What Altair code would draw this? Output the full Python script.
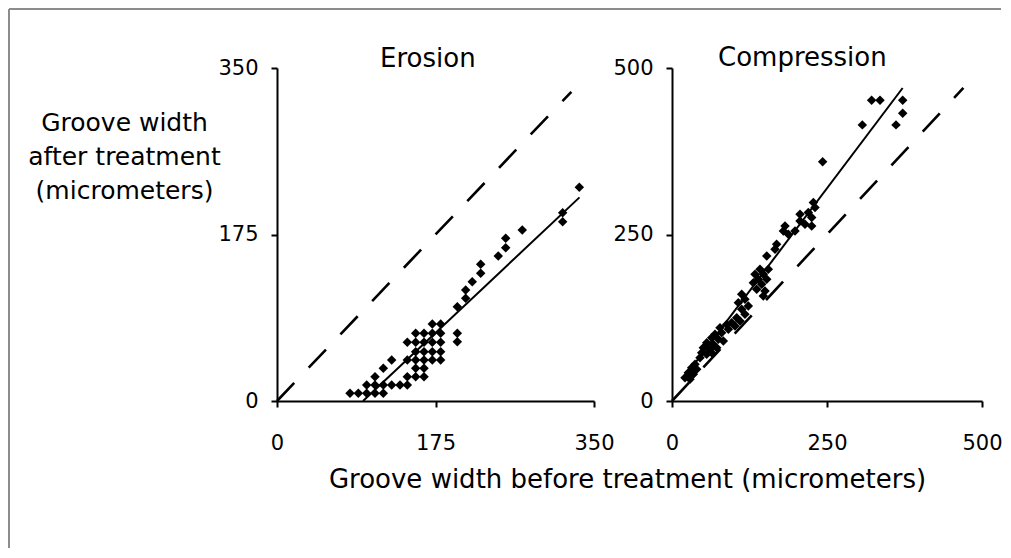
import altair as alt
import pandas as pd

FONT = "DejaVu Sans"

# ---------------- data ----------------
erosion_before = [333.8, 315.4, 315.4, 270.8, 252.5, 252.5, 244.3, 224.9, 224.9, 215.6,
                  208.3, 208.3, 199.1, 199.1, 199.1,
                  80.6, 89.8, 99.0, 108.2, 117.4,
                  99.0, 108.2, 117.4, 126.6, 135.8, 143.9,
                  108.2, 143.9, 153.1, 162.3,
                  117.4, 153.1, 162.3,
                  126.6, 143.9, 153.1, 162.3, 171.5, 180.7,
                  153.1, 162.3, 171.5, 180.7,
                  143.9, 153.1, 162.3, 171.5, 180.7,
                  153.1, 162.3, 171.5, 180.7,
                  171.5, 180.7]
erosion_after = [224.6, 197.9, 188.5, 179.7, 171.0, 161.1, 152.4, 143.7, 134.2, 125.4,
                 116.7, 107.9, 99.1, 71.1, 62.3,
                 8.1, 8.1, 8.1, 8.1, 8.1,
                 16.8, 16.8, 16.8, 16.8, 16.8, 16.8,
                 25.6, 25.6, 25.6, 25.6,
                 34.4, 34.4, 34.4,
                 43.1, 43.1, 43.1, 43.1, 43.1, 43.1,
                 51.8, 51.8, 51.8, 51.8,
                 61.7, 61.7, 61.7, 61.7, 61.7,
                 71.1, 71.1, 71.1, 71.1,
                 80.9, 80.9]

compression_before = [322, 335.5, 372.1, 372.1, 361.3, 307, 243,
                      228, 230.7, 219.9, 225.3, 225.3, 206.5, 206.5, 214.5, 198.4, 182.3,
                      179.6, 187.6, 168.8, 166.1, 152.8,
                      155.4, 141.9, 147.3, 133.9, 139.2, 152.8, 131.2, 144.7, 136.6, 150, 147.3,
                      112.4, 117.7, 107, 123.1, 112.4, 117.7, 104.3, 109.7, 96.3, 101.6, 88.2,
                      90.9, 77.4,
                      80.1, 69.4, 74.7, 64, 82.8, 56, 66.6, 50.5, 61.3, 72.1, 47.9, 56, 64, 45.2,
                      37.1, 31.8, 39.8, 26.3, 34.4, 21, 29]
compression_after = [451.6, 451.6, 451.6, 432.1, 414.6, 414.6, 359.4,
                     297.9, 290.4, 282.9, 275.4, 262.9, 280.4, 270.4, 265.4, 255.3, 262.9,
                     255.3, 250.4, 235.3, 227.8, 217.8,
                     197.8, 197.8, 190.3, 190.3, 182.8, 182.8, 177.7, 175.3, 167.8, 165.2, 157.7,
                     160.2, 152.7, 147.7, 142.7, 137.7, 130.2, 125.1, 120.2, 117.6, 112.7, 115,
                     107.7, 110.1,
                     102.6, 100.2, 92.7, 95.1, 90.1, 87.6, 85.2, 80.1, 77.6, 80.1, 72.5, 70.1, 72.5, 65,
                     55.1, 50, 47.6, 42.5, 40.1, 35, 32.6]

erosion_fit_before = [95, 334]
erosion_fit_after = [0, 214]
compression_fit_before = [22, 372]
compression_fit_after = [38, 470]
erosion_equal = [0, 325]
compression_equal = [0, 470]

erosion_ticks = [0, 175, 350]
compression_ticks = [0, 250, 500]
panel_titles = ["Erosion", "Compression"]
y_title = ["Groove width", "after treatment", "(micrometers)"]
x_title = "Groove width before treatment (micrometers)"


def panel(pb, pa, fb, fa, eq, ticks, width, height, title, title_dx, title_dy,
          x_axis, y_axis, extra):
    dmax = ticks[-1]
    x = alt.X("b:Q", scale=alt.Scale(domain=[0, dmax], nice=False, zero=True), axis=x_axis)
    y = alt.Y("a:Q", scale=alt.Scale(domain=[0, dmax], nice=False, zero=True), axis=y_axis)
    pts = pd.DataFrame({"b": pb, "a": pa})
    fit = pd.DataFrame({"b": fb, "a": fa})
    eqdf = pd.DataFrame({"b": eq, "a": eq})
    l_eq = alt.Chart(eqdf).mark_line(color="black", strokeWidth=2.6,
                                     strokeDash=[25, 21]).encode(x=x, y=y)
    l_fit = alt.Chart(fit).mark_line(color="black", strokeWidth=2).encode(x=x, y=y)
    l_pts = alt.Chart(pts).mark_point(shape="diamond", filled=True, size=90,
                                      color="black", opacity=1).encode(x=x, y=y)
    l_title = alt.Chart(pd.DataFrame({"t": [title]})).mark_text(
        font=FONT, fontSize=26, align="left", baseline="alphabetic", color="black"
    ).encode(text="t:N", x=alt.value(title_dx), y=alt.value(title_dy))
    return alt.layer(*extra, l_eq, l_fit, l_pts, l_title).properties(
        width=width, height=height)


frame_df = pd.DataFrame({"f": [0]})
frame_top = alt.Chart(frame_df).mark_rule(color="#8c8c8c", strokeWidth=2).encode(
    x=alt.value(-268), x2=alt.value(724), y=alt.value(-59))
frame_left = alt.Chart(frame_df).mark_rule(color="#8c8c8c", strokeWidth=2).encode(
    x=alt.value(-268), y=alt.value(-59), y2=alt.value(480))

ero_x_axis = alt.Axis(values=erosion_ticks, title=x_title, titleX=350, titleY=86,
                      titleAlign="center", titleBaseline="alphabetic", titleFontSize=26,
                      labelPadding=25)
ero_y_axis = alt.Axis(values=erosion_ticks, title=y_title, titleAngle=0, titleX=-153,
                      titleY=62, titleAlign="center", titleBaseline="alphabetic",
                      titleLineHeight=34, titleFontSize=25, labelPadding=13)
comp_x_axis = alt.Axis(values=compression_ticks, title="", labelPadding=25)
comp_y_axis = alt.Axis(values=compression_ticks, title="", labelPadding=13)

erosion = panel(erosion_before, erosion_after, erosion_fit_before, erosion_fit_after,
                erosion_equal, erosion_ticks, 317, 333, panel_titles[0], 103, -1,
                ero_x_axis, ero_y_axis, [frame_top, frame_left])
compression = panel(compression_before, compression_after, compression_fit_before,
                    compression_fit_after, compression_equal, compression_ticks, 310, 333,
                    panel_titles[1], 46, -2, comp_x_axis, comp_y_axis, [])

chart = alt.hconcat(erosion, compression, spacing=78, bounds="flush").properties(
    padding=0, background="white"
).configure_axis(
    domainColor="black", domainWidth=2, tickColor="black", tickWidth=2, tickSize=6,
    labelFont=FONT, labelFontSize=21, labelColor="black", labelFlush=False,
    labelOverlap=False, titleFont=FONT, titleFontWeight="normal", titleColor="black",
    grid=False,
).configure_view(strokeWidth=0)

chart.save("out.html", embed_options={"renderer": "svg", "actions": False})
